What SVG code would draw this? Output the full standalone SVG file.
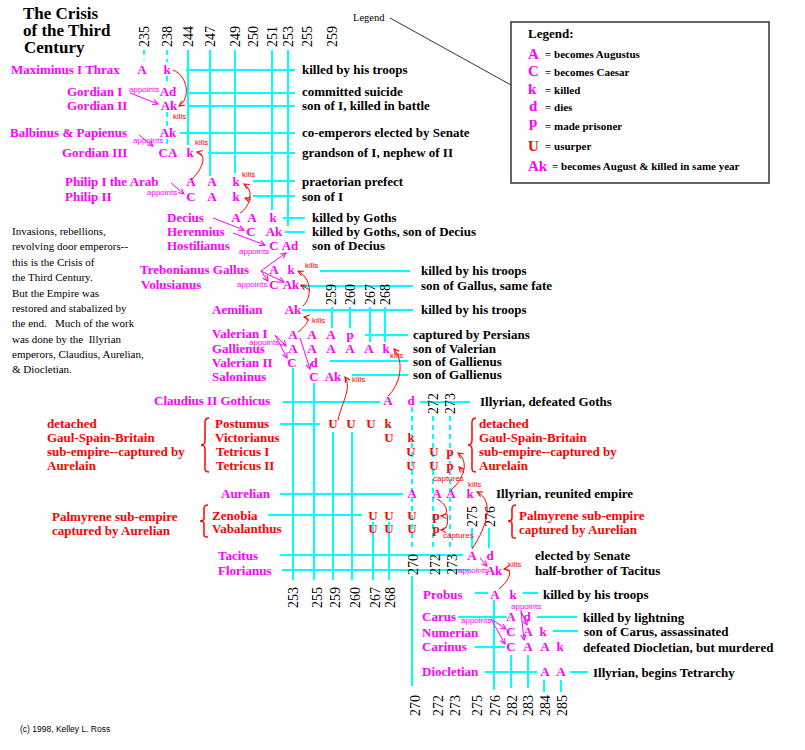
<svg xmlns="http://www.w3.org/2000/svg" width="805" height="750" viewBox="0 0 805 750">
<defs>
<style>
.t{font:bold 17px "Liberation Serif",serif;fill:#000}
.n{font:bold 13px "Liberation Serif",serif;fill:#f0f}
.r{fill:#f00}
.m{font:bold 13px "Liberation Serif",serif;fill:#f0f;text-anchor:middle}
.u{fill:#f00}
.d{font:bold 13px "Liberation Serif",serif;fill:#000}
.rd{font:bold 13px "Liberation Serif",serif;fill:#f00}
.yr{font:14px "Liberation Serif",serif;fill:#000}
.p{font:11px "Liberation Serif",serif;fill:#000}
.s{font:8px "Liberation Sans",sans-serif}
.sa{fill:#f0f}
.sk{fill:#f00}
.g{stroke:#0ff;stroke-width:2;fill:none}
.gd{stroke:#0ff;stroke-width:2;fill:none;stroke-dasharray:5 4}
.ca{stroke:#f0f;stroke-width:1;fill:none;marker-end:url(#ma)}
.ck{stroke:#f00;stroke-width:1;fill:none;marker-end:url(#mk)}
.br{stroke:#f00;stroke-width:1.5;fill:none}
.lg{font:bold 11px "Liberation Serif",serif;fill:#000}
.lm{font:bold 15px "Liberation Serif",serif;fill:#f0f}
</style>
<marker id="ma" viewBox="0 0 8 8" refX="7" refY="4" markerWidth="7" markerHeight="7" markerUnits="userSpaceOnUse" orient="auto"><path d="M1,1 L7,4 L1,7" fill="none" stroke="#f0f" stroke-width="1.2"/></marker>
<marker id="mk" viewBox="0 0 8 8" refX="7" refY="4" markerWidth="7" markerHeight="7" markerUnits="userSpaceOnUse" orient="auto"><path d="M1,1 L7,4 L1,7" fill="none" stroke="#f00" stroke-width="1.2"/></marker>
</defs>
<rect width="805" height="750" fill="#fff"/>

<g id="title">
<text class="t" x="23" y="19">The Crisis</text>
<text class="t" x="23" y="36">of the Third</text>
<text class="t" x="24" y="53">Century</text>
</g>

<g id="intro">
<text class="p" x="12" y="235">Invasions, rebellions,</text>
<text class="p" x="12" y="250">revolving door emperors--</text>
<text class="p" x="12" y="266">this is the Crisis of</text>
<text class="p" x="12" y="281">the Third Century.</text>
<text class="p" x="12" y="297">But the Empire was</text>
<text class="p" x="12" y="312">restored and stabalized by</text>
<text class="p" x="12" y="327" xml:space="preserve">the end.   Much of the work</text>
<text class="p" x="12" y="343" xml:space="preserve">was done by the  Illyrian</text>
<text class="p" x="12" y="358">emperors, Claudius, Aurelian,</text>
<text class="p" x="12" y="373">&amp; Diocletian.</text>
</g>

<g id="copyright"><text x="20" y="732" style="font:8.5px 'Liberation Sans',sans-serif;fill:#000">(c) 1998, Kelley L. Ross</text></g>

<g id="legend">
<text x="353" y="21" style="font:10.5px 'Liberation Serif',serif;fill:#000">Legend</text>
<line x1="390" y1="18" x2="511" y2="85" stroke="#333" stroke-width="1"/>
<rect x="511" y="22" width="258" height="161" fill="#fff" stroke="#333" stroke-width="1.5"/>
<text x="528" y="38" style="font:bold 13px 'Liberation Serif',serif;fill:#000">Legend:</text>
<text class="lm" x="528" y="59">A</text><text class="lg" x="545" y="58">= becomes Augustus</text>
<text class="lm" x="528" y="76">C</text><text class="lg" x="545" y="76">= becomes Caesar</text>
<text class="lm" x="528" y="94">k</text><text class="lg" x="545" y="94">= killed</text>
<text class="lm" x="529" y="111">d</text><text class="lg" x="545" y="111">= dies</text>
<text class="lm" x="529" y="127">p</text><text class="lg" x="545" y="130">= made prisoner</text>
<text class="lm" x="528" y="151" style="fill:#f00">U</text><text class="lg" x="545" y="150">= usurper</text>
<text class="lm" x="528" y="171">Ak</text><text class="lg" x="552" y="170">= becomes August &amp; killed in same year</text>
</g>

<g id="grid">
<path class="g" d="M186 70H295M189 93H295M189 106H295M180 133H295M208 153H295M253 181H295M253 196H295M283 218H305M285 232H305M320 271H410M300 286H413M302 310H413M365 335H408M330 361H408M352 375H408M283 402H380M420 402H470M280 424H320M280 494H403M268 515H362M280 555H463M282 570H470M475 593H488M523 593H538M458 617H507M537 617H577M553 631H578M475 647H505M485 672H537M570 672H588"/>
<path class="g" d="M188 50V145M210 50V176M235 50V173M272 50V210M288 50V226M332 307V328M350 307V328M370 307V342M385 307V342M293 368V580M314 383V580M333 432V580M352 432V580M373 522V580M389 522V580M472 528V548M489 528V548M494 600V690M511 655V688M528 655V688M544 680V692M561 680V692M412 576V686"/>
<path class="gd" d="M144 50V60M167 50V62M167 76V85M167 112V126M167 139V147M412 407V550M433 416V550M450 416V550"/>
</g>

<g id="years">
<text class="yr" transform="translate(149,47) rotate(-90)">235</text>
<text class="yr" transform="translate(172,47) rotate(-90)">238</text>
<text class="yr" transform="translate(193,47) rotate(-90)">244</text>
<text class="yr" transform="translate(215,47) rotate(-90)">247</text>
<text class="yr" transform="translate(240,47) rotate(-90)">249</text>
<text class="yr" transform="translate(258,47) rotate(-90)">250</text>
<text class="yr" transform="translate(277,47) rotate(-90)">251</text>
<text class="yr" transform="translate(293,47) rotate(-90)">253</text>
<text class="yr" transform="translate(312,47) rotate(-90)">255</text>
<text class="yr" transform="translate(337,47) rotate(-90)">259</text>
<text class="yr" transform="translate(336,305) rotate(-90)">259</text>
<text class="yr" transform="translate(355,305) rotate(-90)">260</text>
<text class="yr" transform="translate(375,305) rotate(-90)">267</text>
<text class="yr" transform="translate(390,305) rotate(-90)">268</text>
<text class="yr" transform="translate(438,414) rotate(-90)">272</text>
<text class="yr" transform="translate(455,414) rotate(-90)">273</text>
<text class="yr" transform="translate(477,527) rotate(-90)">275</text>
<text class="yr" transform="translate(495,527) rotate(-90)">276</text>
<text class="yr" transform="translate(418,575) rotate(-90)">270</text>
<text class="yr" transform="translate(440,575) rotate(-90)">272</text>
<text class="yr" transform="translate(457,575) rotate(-90)">273</text>
<text class="yr" transform="translate(298,608) rotate(-90)">253</text>
<text class="yr" transform="translate(322,608) rotate(-90)">255</text>
<text class="yr" transform="translate(340,608) rotate(-90)">259</text>
<text class="yr" transform="translate(360,608) rotate(-90)">260</text>
<text class="yr" transform="translate(380,608) rotate(-90)">267</text>
<text class="yr" transform="translate(395,608) rotate(-90)">268</text>
<text class="yr" transform="translate(420,716) rotate(-90)">270</text>
<text class="yr" transform="translate(443,716) rotate(-90)">272</text>
<text class="yr" transform="translate(460,716) rotate(-90)">273</text>
<text class="yr" transform="translate(482,716) rotate(-90)">275</text>
<text class="yr" transform="translate(500,716) rotate(-90)">276</text>
<text class="yr" transform="translate(517,716) rotate(-90)">282</text>
<text class="yr" transform="translate(533,716) rotate(-90)">283</text>
<text class="yr" transform="translate(550,716) rotate(-90)">284</text>
<text class="yr" transform="translate(567,716) rotate(-90)">285</text>
</g>

<g id="maximinus"><text class="n" x="11" y="74">Maximinus I Thrax</text><text class="m" x="142" y="74">A</text><text class="m" x="167" y="74">k</text><text class="d" x="302" y="74">killed by his troops</text></g>
<g id="gordian1"><text class="n" x="67" y="96">Gordian I</text><text class="m" x="168" y="96">Ad</text><text class="d" x="302" y="96">committed suicide</text></g>
<g id="gordian2"><text class="n" x="67" y="110">Gordian II</text><text class="m" x="169" y="110">Ak</text><text class="d" x="302" y="110">son of I, killed in battle</text></g>
<g id="balbinus"><text class="n" x="10" y="137">Balbinus &amp; Papienus</text><text class="m" x="168" y="137">Ak</text><text class="d" x="302" y="137">co-emperors elected by Senate</text></g>
<g id="gordian3"><text class="n" x="62" y="157">Gordian III</text><text class="m" x="168" y="157">CA</text><text class="m" x="190" y="157">k</text><text class="d" x="302" y="157">grandson of I, nephew of II</text></g>
<g id="philip1"><text class="n" x="65" y="186">Philip I the Arab</text><text class="m" x="191" y="186">A</text><text class="m" x="212" y="186">A</text><text class="m" x="236" y="186">k</text><text class="d" x="302" y="186">praetorian prefect</text></g>
<g id="philip2"><text class="n" x="65" y="201">Philip II</text><text class="m" x="191" y="201">C</text><text class="m" x="212" y="201">A</text><text class="m" x="236" y="201">k</text><text class="d" x="302" y="201">son of I</text></g>
<g id="decius"><text class="n" x="167" y="222">Decius</text><text class="m" x="236" y="222">A</text><text class="m" x="252" y="222">A</text><text class="m" x="273" y="222">k</text><text class="d" x="312" y="222">killed by Goths</text></g>
<g id="herennius"><text class="n" x="167" y="236">Herennius</text><text class="m" x="251" y="236">C</text><text class="m" x="274" y="236">Ak</text><text class="d" x="312" y="236">killed by Goths, son of Decius</text></g>
<g id="hostilianus"><text class="n" x="167" y="250">Hostilianus</text><text class="m" x="274" y="250">C</text><text class="m" x="290" y="250">Ad</text><text class="d" x="312" y="250">son of Decius</text></g>
<g id="trebonianus"><text class="n" x="140" y="274">Trebonianus Gallus</text><text class="m" x="274" y="274">A</text><text class="m" x="291" y="274">k</text><text class="d" x="421" y="275">killed by his troops</text></g>
<g id="volusianus"><text class="n" x="141" y="289">Volusianus</text><text class="m" x="274" y="289">C</text><text class="m" x="291" y="289">Ak</text><text class="d" x="421" y="290">son of Gallus, same fate</text></g>
<g id="aemilian"><text class="n" x="212" y="314">Aemilian</text><text class="m" x="293" y="314">Ak</text><text class="d" x="421" y="314">killed by his troops</text></g>
<g id="valerian1"><text class="n" x="212" y="338">Valerian I</text><text class="m" x="293" y="339">A</text><text class="m" x="312" y="339">A</text><text class="m" x="331" y="339">A</text><text class="m" x="350" y="339">p</text><text class="d" x="413" y="339">captured by Persians</text></g>
<g id="gallienus"><text class="n" x="212" y="353">Gallienus</text><text class="m" x="293" y="353">A</text><text class="m" x="312" y="353">A</text><text class="m" x="331" y="353">A</text><text class="m" x="350" y="353">A</text><text class="m" x="369" y="353">A</text><text class="m" x="386" y="353">k</text><text class="d" x="413" y="353">son of Valerian</text></g>
<g id="valerian2"><text class="n" x="212" y="367">Valerian II</text><text class="m" x="292" y="367">C</text><text class="m" x="314" y="367">d</text><text class="d" x="413" y="366">son of Gallienus</text></g>
<g id="saloninus"><text class="n" x="212" y="381">Saloninus</text><text class="m" x="314" y="381">C</text><text class="m" x="333" y="381">Ak</text><text class="d" x="413" y="379">son of Gallienus</text></g>
<g id="claudius"><text class="n" x="154" y="405">Claudius II Gothicus</text><text class="m" x="388" y="405">A</text><text class="m" x="411" y="405">d</text><text class="d" x="480" y="406">Illyrian, defeated Goths</text></g>
<g id="postumus"><text class="n r" x="215" y="428">Postumus</text><text class="m u" x="333" y="428">U</text><text class="m u" x="351" y="428">U</text><text class="m u" x="371" y="428">U</text><text class="m u" x="388" y="428">k</text></g>
<g id="victorianus"><text class="n r" x="215" y="442">Victorianus</text><text class="m u" x="389" y="442">U</text><text class="m u" x="411" y="442">k</text></g>
<g id="tetricus1"><text class="n r" x="216" y="456">Tetricus I</text><text class="m u" x="411" y="456">U</text><text class="m u" x="434" y="456">U</text><text class="m u" x="450" y="456">p</text></g>
<g id="tetricus2"><text class="n r" x="216" y="470">Tetricus II</text><text class="m u" x="411" y="470">U</text><text class="m u" x="434" y="470">U</text><text class="m u" x="450" y="470">p</text></g>
<g id="gaul-note">
<path class="br" d="M209 418C204 418 205 422 205 430V440C205 444 204 445 201 445C204 445 205 446 205 450V462C205 470 204 472 209 472"/>
<text class="rd" x="47" y="428">detached</text><text class="rd" x="47" y="442">Gaul-Spain-Britain</text><text class="rd" x="47" y="456">sub-empire--captured by</text><text class="rd" x="47" y="470">Aurelain</text>
<path class="br" d="M476 418C471 418 472 422 472 430V440C472 444 471 445 468 445C471 445 472 446 472 450V462C472 470 471 472 476 472"/>
<text class="rd" x="479" y="428">detached</text><text class="rd" x="479" y="442">Gaul-Spain-Britain</text><text class="rd" x="479" y="456">sub-empire--captured by</text><text class="rd" x="479" y="470">Aurelain</text>
</g>
<g id="aurelian"><text class="n" x="221" y="498">Aurelian</text><text class="m" x="412" y="498">A</text><text class="m" x="437" y="498">A</text><text class="m" x="451" y="498">A</text><text class="m" x="470" y="498">k</text><text class="d" x="496" y="498">Illyrian, reunited empire</text></g>
<g id="zenobia"><text class="n r" x="212" y="520">Zenobia</text><text class="m u" x="373" y="520">U</text><text class="m u" x="389" y="520">U</text><text class="m u" x="412" y="520">U</text><text class="m u" x="436" y="520">p</text></g>
<g id="vabalanthus"><text class="n r" x="212" y="533">Vabalanthus</text><text class="m u" x="373" y="533">U</text><text class="m u" x="389" y="533">U</text><text class="m u" x="412" y="533">U</text><text class="m u" x="436" y="533">p</text></g>
<g id="palmyra-note">
<path class="br" d="M208 505C203 505 204 509 204 514V518C204 520 203 521 200 521C203 521 204 522 204 524V530C204 536 203 537 208 537"/>
<text class="rd" x="52" y="521">Palmyrene sub-empire</text><text class="rd" x="52" y="535">captured by Aurelian</text>
<path class="br" d="M516 505C511 505 512 509 512 514V518C512 520 511 521 508 521C511 521 512 522 512 524V531C512 537 511 538 516 538"/>
<text class="rd" x="519" y="520">Palmyrene sub-empire</text><text class="rd" x="519" y="534">captured by Aurelian</text>
</g>
<g id="tacitus"><text class="n" x="218" y="560">Tacitus</text><text class="m" x="472" y="560">A</text><text class="m" x="490" y="560">d</text><text class="d" x="535" y="560">elected by Senate</text></g>
<g id="florianus"><text class="n" x="218" y="575">Florianus</text><text class="m" x="494" y="575">Ak</text><text class="d" x="535" y="575">half-brother of Tacitus</text></g>
<g id="probus"><text class="n" x="423" y="599">Probus</text><text class="m" x="495" y="599">A</text><text class="m" x="513" y="599">k</text><text class="d" x="543" y="599">killed by his troops</text></g>
<g id="carus"><text class="n" x="422" y="621">Carus</text><text class="m" x="511" y="621">A</text><text class="m" x="527" y="621">d</text><text class="d" x="583" y="622">killed by lightning</text></g>
<g id="numerian"><text class="n" x="422" y="637">Numerian</text><text class="m" x="511" y="636">C</text><text class="m" x="528" y="636">A</text><text class="m" x="543" y="636">k</text><text class="d" x="584" y="636">son of Carus, assassinated</text></g>
<g id="carinus"><text class="n" x="422" y="651">Carinus</text><text class="m" x="511" y="651">C</text><text class="m" x="528" y="651">A</text><text class="m" x="545" y="651">A</text><text class="m" x="560" y="651">k</text><text class="d" x="583" y="652">defeated Diocletian, but murdered</text></g>
<g id="diocletian"><text class="n" x="422" y="676">Diocletian</text><text class="m" x="545" y="676">A</text><text class="m" x="561" y="676">A</text><text class="d" x="593" y="677">Illyrian, begins Tetrarchy</text></g>

<g id="connectors">
<path class="ca" d="M130 93L158 104"/>
<path class="ca" d="M139 135L153 146"/>
<path class="ca" d="M171 183L184 194"/>
<path class="ca" d="M213 218L244 230"/>
<path class="ca" d="M233 233L265 245"/>
<path class="ca" d="M261 271L286 253"/>
<path class="ca" d="M261 271L268 281"/>
<path class="ca" d="M261 271L284 282"/>
<path class="ca" d="M275 335L286 346"/>
<path class="ca" d="M275 335L287 358"/>
<path class="ca" d="M300 338L310 369"/>
<path class="ca" d="M480 558L487 566"/>
<path class="ca" d="M521 611L527 625"/>
<path class="ca" d="M521 611L524 640"/>
<path class="ca" d="M491 619L506 629"/>
<path class="ca" d="M491 619L505 644"/>
<path class="ck" d="M173 70C188 76 191 98 179 106"/>
<path class="ck" d="M191 180C204 168 207 154 197 152"/>
<path class="ck" d="M240 213C251 206 254 190 244 184"/>
<path class="ck" d="M251 200L245 198"/>
<path class="ck" d="M303 306C313 296 311 278 298 271"/>
<path class="ck" d="M310 290L301 285"/>
<path class="ck" d="M298 332C306 326 312 318 304 317"/>
<path class="ck" d="M388 396C400 385 405 362 394 349"/>
<path class="ck" d="M338 420C342 402 352 388 345 377"/>
<path class="ck" d="M472 549C488 525 494 500 477 492"/>
<path class="ck" d="M499 589C510 580 514 568 504 569"/>
<path class="ck" d="M451 490C463 480 470 462 458 453"/>
<path class="ck" d="M464 473L459 467"/>
<path class="ck" d="M437 499C449 505 449 516 441 516"/>
<path class="ck" d="M447 514C449 525 446 530 441 530"/>
<g class="s sa">
<text x="129" y="92">appoints</text><text x="133" y="143">appoints</text><text x="147" y="195">appoints</text><text x="239" y="254">appoints</text><text x="237" y="287">appoints</text><text x="249" y="345">appoints</text><text x="458" y="573">appoints</text><text x="511" y="609">appoints</text><text x="461" y="623">appoints</text>
</g>
<g class="s sk">
<text x="173" y="119">kills</text><text x="195" y="145">kills</text><text x="242" y="177">kills</text><text x="305" y="268">kills</text><text x="312" y="323">kills</text><text x="390" y="358">kills</text><text x="352" y="382">kills</text><text x="468" y="487">kills</text><text x="508" y="567">kills</text><text x="433" y="481">captures</text><text x="443" y="538">captures</text>
</g>
</g>
</svg>
